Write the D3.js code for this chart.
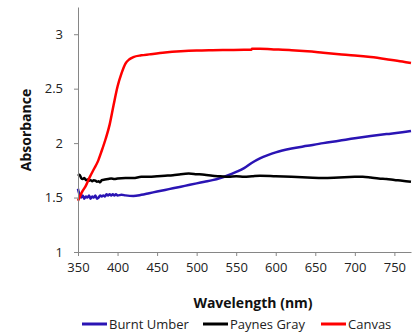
<!DOCTYPE html>
<html><head><meta charset="utf-8">
<script src="https://cdn.jsdelivr.net/npm/d3@7"></script>
<style>body{margin:0;background:#fff}svg{display:block}</style>
</head><body>
<svg id="c" width="416" height="335"></svg>
<script>
const seriesNames = ["Burnt Umber", "Paynes Gray", "Canvas"];
const seriesColors = ["#2A14B4", "#000000", "#FF0000"];
const xTicks = [350,400,450,500,550,600,650,700,750];
const yTicks = [1,1.5,2,2.5,3];

const umberX = [350,351,352,354,356,358,360,362,364,366,368,370,372,374,376,378,380,382,384,386,388,390,392,394,396,398,400,405,410,420,430,440,450,460,470,480,490,500,510,520,530,540,550,560,570,580,590,600,620,640,660,680,700,720,740,760,771];
const umberY = [1.58,1.55,1.53,1.50,1.52,1.49,1.51,1.50,1.52,1.49,1.51,1.50,1.52,1.49,1.50,1.52,1.51,1.52,1.51,1.53,1.52,1.53,1.52,1.53,1.52,1.53,1.52,1.525,1.52,1.515,1.525,1.54,1.555,1.57,1.585,1.60,1.615,1.63,1.645,1.66,1.68,1.705,1.735,1.77,1.82,1.86,1.89,1.915,1.95,1.975,2.0,2.022,2.045,2.065,2.083,2.10,2.112];

const paynesX = [350,352,354,356,358,360,362,364,366,368,370,372,374,376,378,380,384,388,392,396,400,410,420,430,440,450,460,470,480,490,500,510,520,530,540,550,560,570,580,600,620,640,660,680,700,710,720,730,740,750,760,771];
const paynesY = [1.70,1.71,1.68,1.67,1.68,1.66,1.665,1.655,1.66,1.65,1.66,1.655,1.645,1.65,1.64,1.66,1.665,1.67,1.675,1.67,1.675,1.68,1.68,1.69,1.69,1.695,1.70,1.705,1.715,1.72,1.715,1.71,1.70,1.695,1.69,1.695,1.69,1.695,1.70,1.695,1.69,1.685,1.68,1.685,1.69,1.692,1.685,1.675,1.67,1.662,1.655,1.645];

const canvasX = [350,355,360,365,370,375,380,385,390,395,400,405,410,415,420,430,440,460,480,500,520,540,560,569,570,580,600,620,640,660,680,700,720,740,760,771];
const canvasY = [1.47,1.55,1.61,1.69,1.76,1.83,1.93,2.04,2.17,2.35,2.52,2.64,2.73,2.77,2.79,2.806,2.815,2.832,2.843,2.85,2.853,2.855,2.857,2.857,2.866,2.866,2.86,2.853,2.843,2.83,2.817,2.805,2.79,2.771,2.75,2.735];

const seriesX = [umberX, paynesX, canvasX];
const seriesY = [umberY, paynesY, canvasY];

const svg = d3.select("#c");
const m = {l:78, r:5, t:7, b:83};
const W = 416, H = 335;
const x = d3.scaleLinear().domain([350,771]).range([m.l, W - m.r]);
const y = d3.scaleLinear().domain([1,3.25]).range([H - m.b, m.t]);
const font = "'Open Sans', sans-serif";

const line = d3.line().x(d => x(d[0])).y(d => y(d[1])).curve(d3.curveMonotoneX);
seriesNames.forEach((n, i) => {
  const pts = seriesX[i].map((v, j) => [v, seriesY[i][j]]);
  svg.append("path").attr("d", line(pts)).attr("fill","none")
    .attr("stroke", seriesColors[i]).attr("stroke-width", 2.5).attr("stroke-linejoin","round");
});

const xa = svg.append("g").attr("transform", `translate(0,${H - m.b})`)
  .call(d3.axisBottom(x).tickValues(xTicks).tickSize(4).tickPadding(7).tickSizeOuter(0));
const ya = svg.append("g").attr("transform", `translate(${m.l},0)`)
  .call(d3.axisLeft(y).tickValues(yTicks).tickSize(4).tickPadding(11).tickSizeOuter(0).tickFormat(d3.format("")));
[xa, ya].forEach(a => {
  a.select(".domain").attr("stroke", "#868686").attr("stroke-width", 1);
  a.selectAll(".tick line").attr("stroke", "#868686");
  a.selectAll("text").attr("font-family", font).attr("font-size", 13).attr("fill", "#222");
});

svg.append("text").attr("x", 253).attr("y", 308).attr("text-anchor","middle")
  .attr("font-family", font).attr("font-weight","bold").attr("font-size", 14).attr("fill","#111")
  .text("Wavelength (nm)");
svg.append("text").attr("transform","translate(31,130) rotate(-90)").attr("text-anchor","middle")
  .attr("font-family", font).attr("font-weight","bold").attr("font-size", 14).attr("fill","#111")
  .text("Absorbance");

const legX = [82, 203, 321];
seriesNames.forEach((n, i) => {
  svg.append("line").attr("x1", legX[i]).attr("x2", legX[i] + 25).attr("y1", 324).attr("y2", 324)
    .attr("stroke", seriesColors[i]).attr("stroke-width", 3);
  svg.append("text").attr("x", legX[i] + 27).attr("y", 328.5)
    .attr("font-family", font).attr("font-size", 13).attr("fill","#222").text(n);
});
</script>
</body></html>
